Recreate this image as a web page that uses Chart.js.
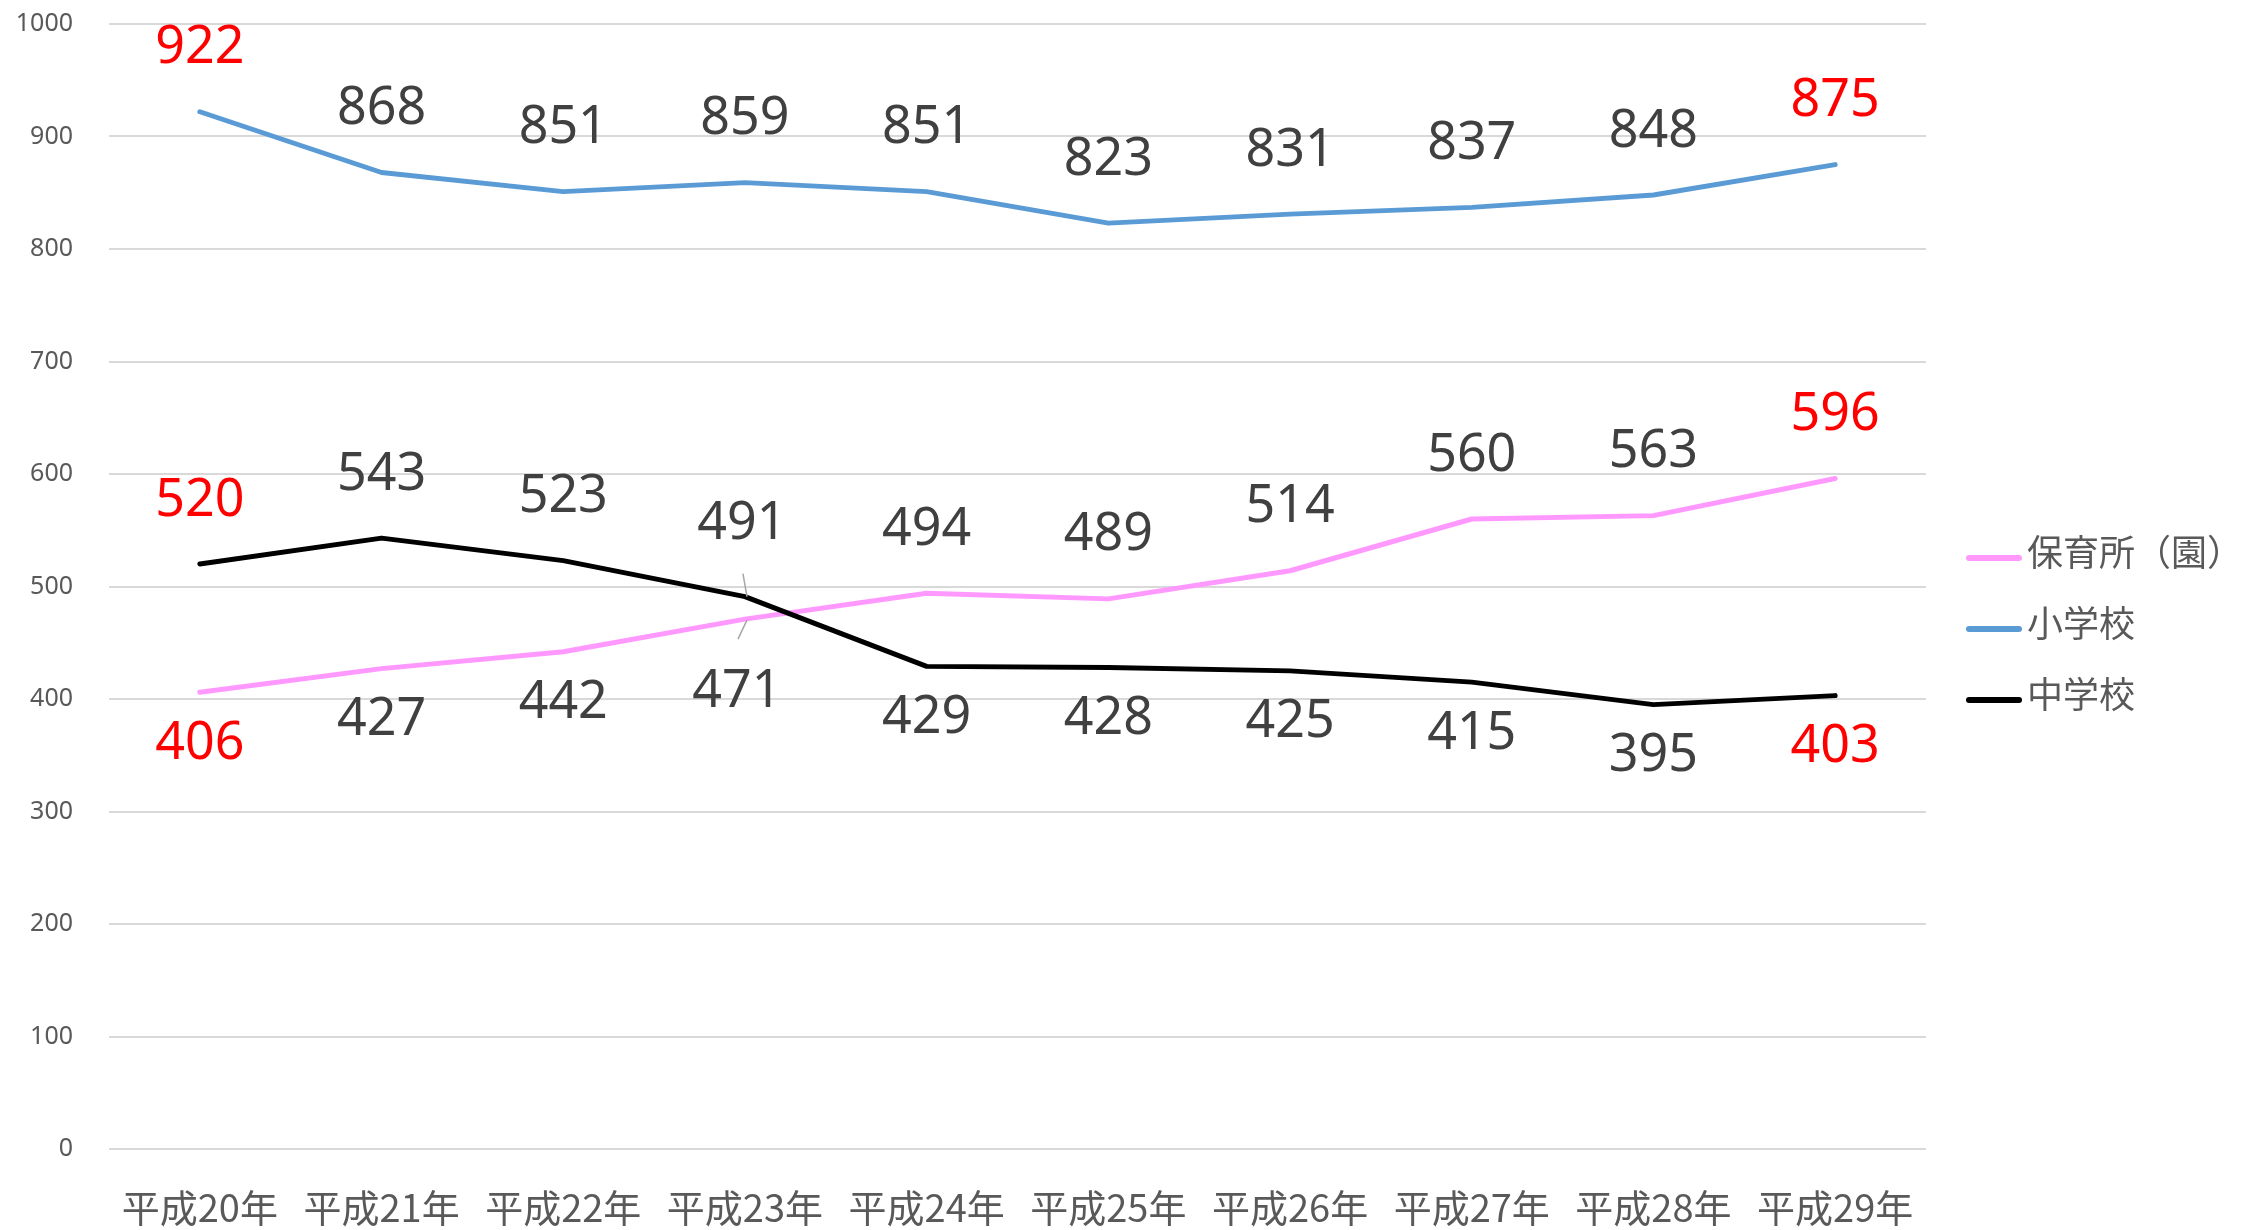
<!DOCTYPE html>
<html lang="ja">
<head>
<meta charset="utf-8">
<title>保育所（園）・小学校・中学校の推移</title>
<script src="https://cdn.jsdelivr.net/npm/chart.js@4.4.0/dist/chart.umd.min.js"></script>
<style>
    html, body { margin: 0; padding: 0; background: #ffffff; }
    #wrap { width: 2257px; height: 1230px; position: relative; }
</style>
</head>
<body>
<div id="wrap"><canvas id="trendChart"></canvas></div>
<script>
// Data
const years = ['平成20年', '平成21年', '平成22年', '平成23年', '平成24年',
               '平成25年', '平成26年', '平成27年', '平成28年', '平成29年'];
const nursery = [406, 427, 442, 471, 494, 489, 514, 560, 563, 596];
const elementary = [922, 868, 851, 859, 851, 823, 831, 837, 848, 875];
const juniorHigh = [520, 543, 523, 491, 429, 428, 425, 415, 395, 403];
const yTickValues = [0, 100, 200, 300, 400, 500, 600, 700, 800, 900, 1000];

// where each value label sits: 'a' above the point, 'b' below
const nurseryLabelPos = ['b', 'b', 'b', 'b', 'a', 'a', 'a', 'a', 'a', 'a'];
const elementaryLabelPos = ['a', 'a', 'a', 'a', 'a', 'a', 'a', 'a', 'a', 'a'];
const juniorLabelPos = ['a', 'a', 'a', 'a', 'b', 'b', 'b', 'b', 'b', 'b'];

// labels that were dragged away from their default spot (with leader line)
const nurseryNudge = { 3: { dx: -8, dy: 21, leader: [2, 1, -7, 20] } };
const juniorNudge = { 3: { dx: -3, dy: -9, leader: [2, 0, -2, -23] } };

const GRAY_TEXT = '#595959';
const LABEL_TEXT = '#404040';
const HIGHLIGHT = '#FF0000';

// Value labels drawn next to each point
const pointLabels = {
    id: 'pointLabels',
    afterDatasetsDraw(chart) {
        const ctx = chart.ctx;
        const fs = 52;
        ctx.save();
        ctx.font = fs + 'px "Noto Sans"';
        ctx.textAlign = 'center';
        ctx.textBaseline = 'alphabetic';
        chart.data.datasets.forEach((ds, di) => {
            const meta = chart.getDatasetMeta(di);
            meta.data.forEach((pt, i) => {
                const above = ds.labelPos[i] === 'a';
                const nudge = (ds.labelNudge && ds.labelNudge[i]) || { dx: 0, dy: 0 };
                const cx = pt.x + nudge.dx;
                const cy = pt.y + (above ? -67 : 48) + nudge.dy;

                if (nudge.leader) {
                    // short grey leader line between the point and the moved label
                    const l = nudge.leader;
                    ctx.strokeStyle = '#A6A6A6';
                    ctx.lineWidth = 1.5;
                    ctx.beginPath();
                    ctx.moveTo(pt.x + l[0], pt.y + l[1]);
                    ctx.lineTo(pt.x + l[2], pt.y + l[3]);
                    ctx.stroke();
                }

                const last = ds.data.length - 1;
                ctx.fillStyle = (i === 0 || i === last) ? HIGHLIGHT : LABEL_TEXT;
                ctx.fillText(String(ds.data[i]), cx, cy + fs * 0.357);
            });
        });
        ctx.restore();
    }
};

// Legend on the right, Excel style
const sideLegend = {
    id: 'sideLegend',
    afterDraw(chart) {
        const ctx = chart.ctx;
        const x0 = chart.chartArea.right + 40;
        const rows = [558, 629, 700];
        ctx.save();
        ctx.font = '36px "Noto Sans CJK JP"';
        ctx.textAlign = 'left';
        ctx.textBaseline = 'middle';
        chart.data.datasets.forEach((ds, di) => {
            const y = rows[di];
            ctx.strokeStyle = ds.borderColor;
            ctx.lineWidth = 6;
            ctx.lineCap = 'round';
            ctx.beginPath();
            ctx.moveTo(x0 + 3, y);
            ctx.lineTo(x0 + 53, y);
            ctx.stroke();
            ctx.fillStyle = GRAY_TEXT;
            ctx.fillText(ds.label, x0 + 61, y - 6);
        });
        ctx.restore();
    }
};

document.addEventListener('DOMContentLoaded', function() {
    const ctx = document.getElementById('trendChart').getContext('2d');

    const trendChart = new Chart(ctx, {
        type: 'line',
        data: {
            labels: years,
            datasets: [{
                label: '保育所（園）',
                data: nursery,
                borderColor: '#FF99FF',
                labelPos: nurseryLabelPos,
                labelNudge: nurseryNudge,
                order: 3
            }, {
                label: '小学校',
                data: elementary,
                borderColor: '#5B9BD5',
                labelPos: elementaryLabelPos,
                order: 2
            }, {
                label: '中学校',
                data: juniorHigh,
                borderColor: '#000000',
                labelPos: juniorLabelPos,
                labelNudge: juniorNudge,
                order: 1
            }]
        },
        options: {
            responsive: true,
            maintainAspectRatio: false,
            animation: false,
            datasets: {
                line: {
                    borderWidth: 5,
                    tension: 0,
                    fill: false,
                    pointRadius: 0,
                    pointHoverRadius: 0,
                    borderJoinStyle: 'round',
                    borderCapStyle: 'round'
                }
            },
            layout: {
                padding: { left: 0, right: 331, top: 24, bottom: 0 }
            },
            plugins: {
                legend: { display: false },
                tooltip: { enabled: false }
            },
            scales: {
                x: {
                    offset: true,
                    grid: { display: false },
                    border: { display: false },
                    ticks: {
                        color: GRAY_TEXT,
                        font: { family: '"Noto Sans CJK JP"', size: 38 },
                        padding: 28,
                        maxRotation: 0,
                        autoSkip: false
                    },
                    afterFit: function(scale) {
                        scale.height = 81;
                        scale.paddingTop = 0;
                        scale.paddingBottom = 0;
                    }
                },
                y: {
                    min: 0,
                    max: 1000,
                    afterBuildTicks: function(scale) {
                        scale.ticks = yTickValues.map(v => ({ value: v }));
                    },
                    grid: {
                        color: '#D9D9D9',
                        lineWidth: 2,
                        drawTicks: false
                    },
                    border: { display: false },
                    ticks: {
                        color: GRAY_TEXT,
                        font: { family: '"Noto Sans"', size: 25 },
                        padding: 36,
                        callback: function(value) {
                            return String(value);
                        }
                    },
                    afterFit: function(scale) {
                        scale.width = 109;
                        scale.paddingTop = 0;
                        scale.paddingBottom = 0;
                    }
                }
            }
        },
        plugins: [pointLabels, sideLegend]
    });
});
</script>
</body>
</html>
